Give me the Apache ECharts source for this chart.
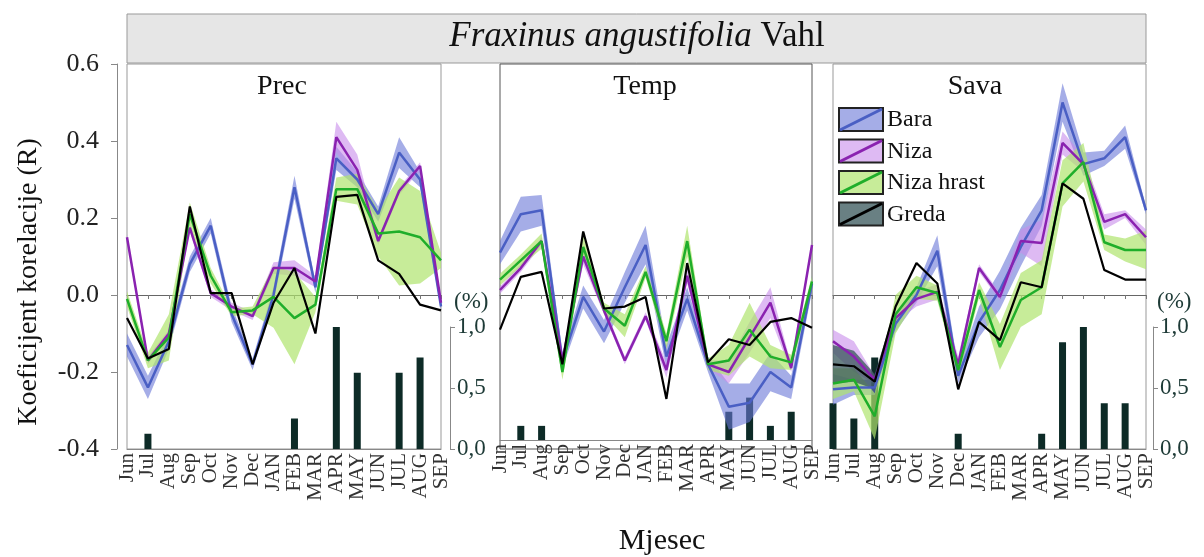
<!DOCTYPE html>
<html>
<head>
<meta charset="utf-8">
<script src="https://cdn.jsdelivr.net/npm/echarts@6/dist/echarts.min.js"></script>
<style>
  html, body { margin: 0; padding: 0; background: #fff; }
  #chart { width: 1204px; height: 557px; }
</style>
</head>
<body>
<div id="chart"></div>
<script>
// kategorije (mjeseci)
const months = ['Jun', 'Jul', 'Aug', 'Sep', 'Oct', 'Nov', 'Dec', 'JAN', 'FEB', 'MAR', 'APR', 'MAY', 'JUN', 'JUL', 'AUG', 'SEP'];
const sites = ['Bara', 'Niza', 'Niza hrast', 'Greda'];
const panels = ['Prec', 'Temp', 'Sava'];

// Prec - koeficijenti korelacije
const precBara  = [-0.13, -0.24, -0.12, 0.08, 0.18, -0.05, -0.18, 0.00, 0.28, 0.02, 0.355, 0.30, 0.21, 0.37, 0.30, -0.03];
const precNiza  = [0.15, -0.17, -0.10, 0.175, 0.005, -0.03, -0.055, 0.07, 0.07, 0.035, 0.41, 0.325, 0.14, 0.27, 0.335, -0.02];
const precHrast = [-0.01, -0.17, -0.11, 0.21, 0.05, -0.045, -0.04, -0.005, -0.06, -0.025, 0.275, 0.275, 0.16, 0.165, 0.15, 0.09];
const precGreda = [-0.06, -0.165, -0.14, 0.23, 0.005, 0.005, -0.18, -0.02, 0.07, -0.10, 0.255, 0.26, 0.09, 0.055, -0.025, -0.04];
// Prec - širina pojasa (±)
const precBaraSd  = [0.03, 0.03, 0.02, 0.02, 0.02, 0.02, 0.015, 0.02, 0.03, 0.015, 0.03, 0.02, 0.02, 0.04, 0.02, 0.01];
const precNizaSd  = [0.01, 0.01, 0.01, 0.01, 0.01, 0.01, 0.01, 0.015, 0.02, 0.015, 0.04, 0.04, 0.01, 0.01, 0.01, 0.01];
const precHrastSd = [0.02, 0.02, 0.06, 0.03, 0.02, 0.01, 0.01, 0.08, 0.12, 0.02, 0.03, 0.04, 0.06, 0.14, 0.12, 0.02];
const precGredaSd = [0, 0, 0, 0, 0, 0, 0, 0, 0, 0, 0, 0, 0, 0, 0, 0];

// Temp
const tempBara  = [0.11, 0.21, 0.22, -0.17, -0.005, -0.095, 0.02, 0.13, -0.16, -0.01, -0.18, -0.29, -0.28, -0.20, -0.24, 0.03];
const tempNiza  = [0.013, 0.07, 0.14, -0.17, 0.10, -0.04, -0.17, -0.055, -0.195, 0.05, -0.18, -0.20, -0.11, -0.02, -0.19, 0.13];
const tempHrast = [0.04, 0.09, 0.14, -0.20, 0.125, -0.035, -0.08, 0.06, -0.12, 0.14, -0.18, -0.17, -0.09, -0.16, -0.175, 0.035];
const tempGreda = [-0.09, 0.047, 0.06, -0.18, 0.165, -0.035, -0.03, -0.005, -0.27, 0.083, -0.175, -0.115, -0.13, -0.07, -0.06, -0.085];
const tempBaraSd  = [0.03, 0.045, 0.04, 0.02, 0.03, 0.03, 0.04, 0.05, 0.03, 0.03, 0.02, 0.06, 0.05, 0.05, 0.03, 0.02];
const tempNizaSd  = [0.01, 0.01, 0.01, 0.01, 0.02, 0.01, 0.01, 0.01, 0.02, 0.02, 0.01, 0.03, 0.04, 0.04, 0.01, 0.01];
const tempHrastSd = [0.015, 0.015, 0.02, 0.02, 0.03, 0.015, 0.03, 0.015, 0.02, 0.04, 0.015, 0.04, 0.07, 0.03, 0.02, 0.015];
const tempGredaSd = [0, 0, 0, 0, 0, 0, 0, 0, 0, 0, 0, 0, 0, 0, 0, 0];

// Sava
const savaBara  = [-0.245, -0.24, -0.24, -0.075, 0.0, 0.115, -0.21, -0.07, 0.013, 0.125, 0.22, 0.50, 0.34, 0.355, 0.41, 0.22];
const savaNiza  = [-0.12, -0.16, -0.22, -0.06, -0.01, 0.008, -0.18, 0.07, -0.005, 0.14, 0.135, 0.395, 0.34, 0.19, 0.21, 0.15];
const savaHrast = [-0.23, -0.22, -0.315, -0.05, 0.02, 0.005, -0.195, 0.013, -0.135, -0.013, 0.02, 0.29, 0.345, 0.137, 0.117, 0.117];
const savaGreda = [-0.18, -0.185, -0.225, -0.03, 0.083, 0.03, -0.245, -0.07, -0.117, 0.033, 0.02, 0.29, 0.25, 0.065, 0.04, 0.04];
const savaBaraSd  = [0.04, 0.02, 0.02, 0.02, 0.02, 0.04, 0.02, 0.04, 0.05, 0.05, 0.04, 0.05, 0.03, 0.02, 0.03, 0.01];
const savaNizaSd  = [0.03, 0.04, 0.01, 0.01, 0.02, 0.02, 0.02, 0.01, 0.01, 0.03, 0.06, 0.03, 0.02, 0.02, 0.01, 0.02];
const savaHrastSd = [0.04, 0.03, 0.06, 0.05, 0.03, 0.02, 0.02, 0.02, 0.06, 0.07, 0.07, 0.06, 0.05, 0.02, 0.03, 0.05];
const savaGredaSd = [0.05, 0.04, 0.02, 0, 0, 0, 0, 0, 0, 0, 0, 0, 0, 0, 0, 0];

// udio (%) značajnih korelacija
const precPct = [0, 0.125, 0, 0, 0, 0, 0, 0, 0.25, 0, 1, 0.625, 0, 0.625, 0.75, 0];
const tempPct = [0, 0.125, 0.125, 0, 0, 0, 0, 0, 0, 0, 0, 0.25, 0.375, 0.125, 0.25, 0];
const savaPct = [0.375, 0.25, 0.75, 0, 0, 0, 0.125, 0, 0, 0, 0.125, 0.875, 1, 0.375, 0.375, 0];

const values = [
  [precBara, precNiza, precHrast, precGreda],
  [tempBara, tempNiza, tempHrast, tempGreda],
  [savaBara, savaNiza, savaHrast, savaGreda]
];
const spreads = [
  [precBaraSd, precNizaSd, precHrastSd, precGredaSd],
  [tempBaraSd, tempNizaSd, tempHrastSd, tempGredaSd],
  [savaBaraSd, savaNizaSd, savaHrastSd, savaGredaSd]
];
const pcts = [precPct, tempPct, savaPct];

const lineColors = ['#4a5fc4', '#8a22b0', '#1fae2a', '#000000'];
const bandColors = ['rgba(105,118,215,0.6)', 'rgba(200,140,235,0.6)', 'rgba(175,228,110,0.7)', 'rgba(55,85,90,0.75)'];

const FONT = 'Liberation Serif';
const gridLeft = [127, 500, 833];
const gridWidth = [314, 312, 313];

var myChart = echarts.init(document.getElementById('chart'));

const grid = [];
const xAxis = [];
const yAxis = [];
const series = [];

// glavni paneli (korelacije)
for (let p = 0; p < 3; p++) {
  grid.push({
    left: gridLeft[p], width: gridWidth[p], top: 64, height: 385,
    show: true, borderColor: p === 1 ? '#555' : '#999', borderWidth: 1
  });
  xAxis.push({
    gridIndex: p, type: 'category', data: months, boundaryGap: false,
    axisLine: { onZero: true, lineStyle: { color: '#666', width: 1 } },
    axisTick: { show: true, interval: 0, length: 4, lineStyle: { color: '#777' } },
    axisLabel: { show: false },
    splitLine: { show: false }
  });
  yAxis.push({
    gridIndex: p, type: 'value', min: -0.4, max: 0.6, interval: 0.2,
    show: p === 0,
    position: 'left', offset: 10,
    axisLine: { show: true, lineStyle: { color: '#888' } },
    axisTick: { show: true, length: 6, lineStyle: { color: '#888' } },
    axisLabel: {
      fontFamily: FONT, fontSize: 26, color: '#222', margin: 18,
      formatter: function (v) { return v.toFixed(1); }
    },
    splitLine: { show: false }
  });
}

// paneli s udjelom (%)
for (let p = 0; p < 3; p++) {
  grid.push({ left: gridLeft[p], width: gridWidth[p], top: 327, height: 122 });
  xAxis.push({
    gridIndex: 3 + p, type: 'category', data: months, boundaryGap: false,
    name: p === 1 ? 'Mjesec' : '',
    nameLocation: 'middle', nameGap: 86,
    nameTextStyle: { fontFamily: FONT, fontSize: 30, color: '#111', padding: [0, 0, 0, 12] },
    axisLine: { show: true, lineStyle: { color: '#888' } },
    axisTick: { show: false },
    axisLabel: {
      interval: 0, rotate: 90, margin: 4,
      fontFamily: FONT, fontSize: 21, color: '#333'
    }
  });
  yAxis.push({
    gridIndex: 3 + p, type: 'value', min: 0, max: 1, interval: 0.5,
    show: p !== 1,
    position: 'right', offset: p === 0 ? 9 : 7,
    name: '(%)', nameLocation: 'end', nameGap: 14,
    nameTextStyle: { fontFamily: FONT, fontSize: 23, color: '#1d3a36', align: 'left', padding: [0, 0, 0, 4] },
    axisLine: { show: true, lineStyle: { color: '#888' } },
    axisTick: { show: true, length: 5, lineStyle: { color: '#888' } },
    axisLabel: {
      fontFamily: FONT, fontSize: 23, color: '#1d3a36', margin: 7,
      formatter: function (v) { return v.toFixed(1).replace('.', ','); }
    },
    splitLine: { show: false }
  });
  series.push({
    type: 'bar', xAxisIndex: 3 + p, yAxisIndex: 3 + p,
    data: pcts[p], barWidth: 7,
    itemStyle: { color: '#0d2b27' },
    silent: true
  });
}

// pojasevi (stacked area: donja granica + širina)
for (let p = 0; p < 3; p++) {
  for (let s = 0; s < 4; s++) {
    const v = values[p][s];
    const sd = spreads[p][s];
    const stackId = 'band' + p + '_' + s;
    series.push({
      type: 'line', xAxisIndex: p, yAxisIndex: p,
      data: v.map((d, i) => d - sd[i]),
      stack: stackId, stackStrategy: 'all',
      symbol: 'none', lineStyle: { opacity: 0 }, silent: true
    });
    series.push({
      type: 'line', xAxisIndex: p, yAxisIndex: p,
      data: sd.map(d => 2 * d),
      stack: stackId, stackStrategy: 'all',
      symbol: 'none', lineStyle: { opacity: 0 },
      areaStyle: { color: bandColors[s], opacity: 1 }, silent: true
    });
  }
}

// linije
for (let p = 0; p < 3; p++) {
  for (let s = 0; s < 4; s++) {
    series.push({
      name: sites[s], type: 'line', xAxisIndex: p, yAxisIndex: p,
      data: values[p][s], symbol: 'none',
      lineStyle: { color: lineColors[s], width: s === 3 ? 2.2 : 2.5 },
      silent: true
    });
  }
}

// legenda (Sava panel)
const legendItems = [];
for (let s = 0; s < 4; s++) {
  const y = 108 + s * 31.5;
  legendItems.push({
    type: 'rect', shape: { x: 839, y: y, width: 44, height: 23 },
    style: { fill: bandColors[s], stroke: '#222', lineWidth: 2 }
  });
  legendItems.push({
    type: 'line', shape: { x1: 840, y1: y + 22, x2: 882, y2: y + 1 },
    style: { stroke: lineColors[s], lineWidth: 3 }
  });
  legendItems.push({
    type: 'text', x: 887, y: y + 12,
    style: { text: sites[s], font: '24px "Liberation Serif"', fill: '#111', textVerticalAlign: 'middle' }
  });
}

var option = {
  animation: false,
  backgroundColor: '#fff',
  title: [
    {
      text: '{i|Fraxinus angustifolia} Vahl',
      left: 637, top: 19, textAlign: 'center', padding: 0,
      textStyle: {
        fontFamily: FONT, fontSize: 35, fontWeight: 'normal', color: '#111',
        rich: { i: { fontFamily: FONT, fontSize: 35, fontStyle: 'italic', color: '#111' } }
      }
    },
    { text: 'Prec', left: 282, top: 73, textAlign: 'center', padding: 0, textStyle: { fontFamily: FONT, fontSize: 28, fontWeight: 'normal', color: '#111' } },
    { text: 'Temp', left: 645, top: 73, textAlign: 'center', padding: 0, textStyle: { fontFamily: FONT, fontSize: 28, fontWeight: 'normal', color: '#111' } },
    { text: 'Sava', left: 975, top: 73, textAlign: 'center', padding: 0, textStyle: { fontFamily: FONT, fontSize: 28, fontWeight: 'normal', color: '#111' } }
  ],
  graphic: [
    {
      type: 'rect', z: -1,
      shape: { x: 127, y: 14, width: 1019, height: 49 },
      style: { fill: '#e6e6e6', stroke: '#999', lineWidth: 1 }
    },
    {
      type: 'text', x: 29, y: 282, rotation: Math.PI / 2,
      style: {
        text: 'Koeficijent korelacije (R)', font: '28px "Liberation Serif"', fill: '#111',
        textAlign: 'center', textVerticalAlign: 'middle'
      }
    },
    { type: 'group', children: legendItems }
  ],
  grid: grid,
  xAxis: xAxis,
  yAxis: yAxis,
  series: series
};

myChart.setOption(option);
</script>
</body>
</html>
